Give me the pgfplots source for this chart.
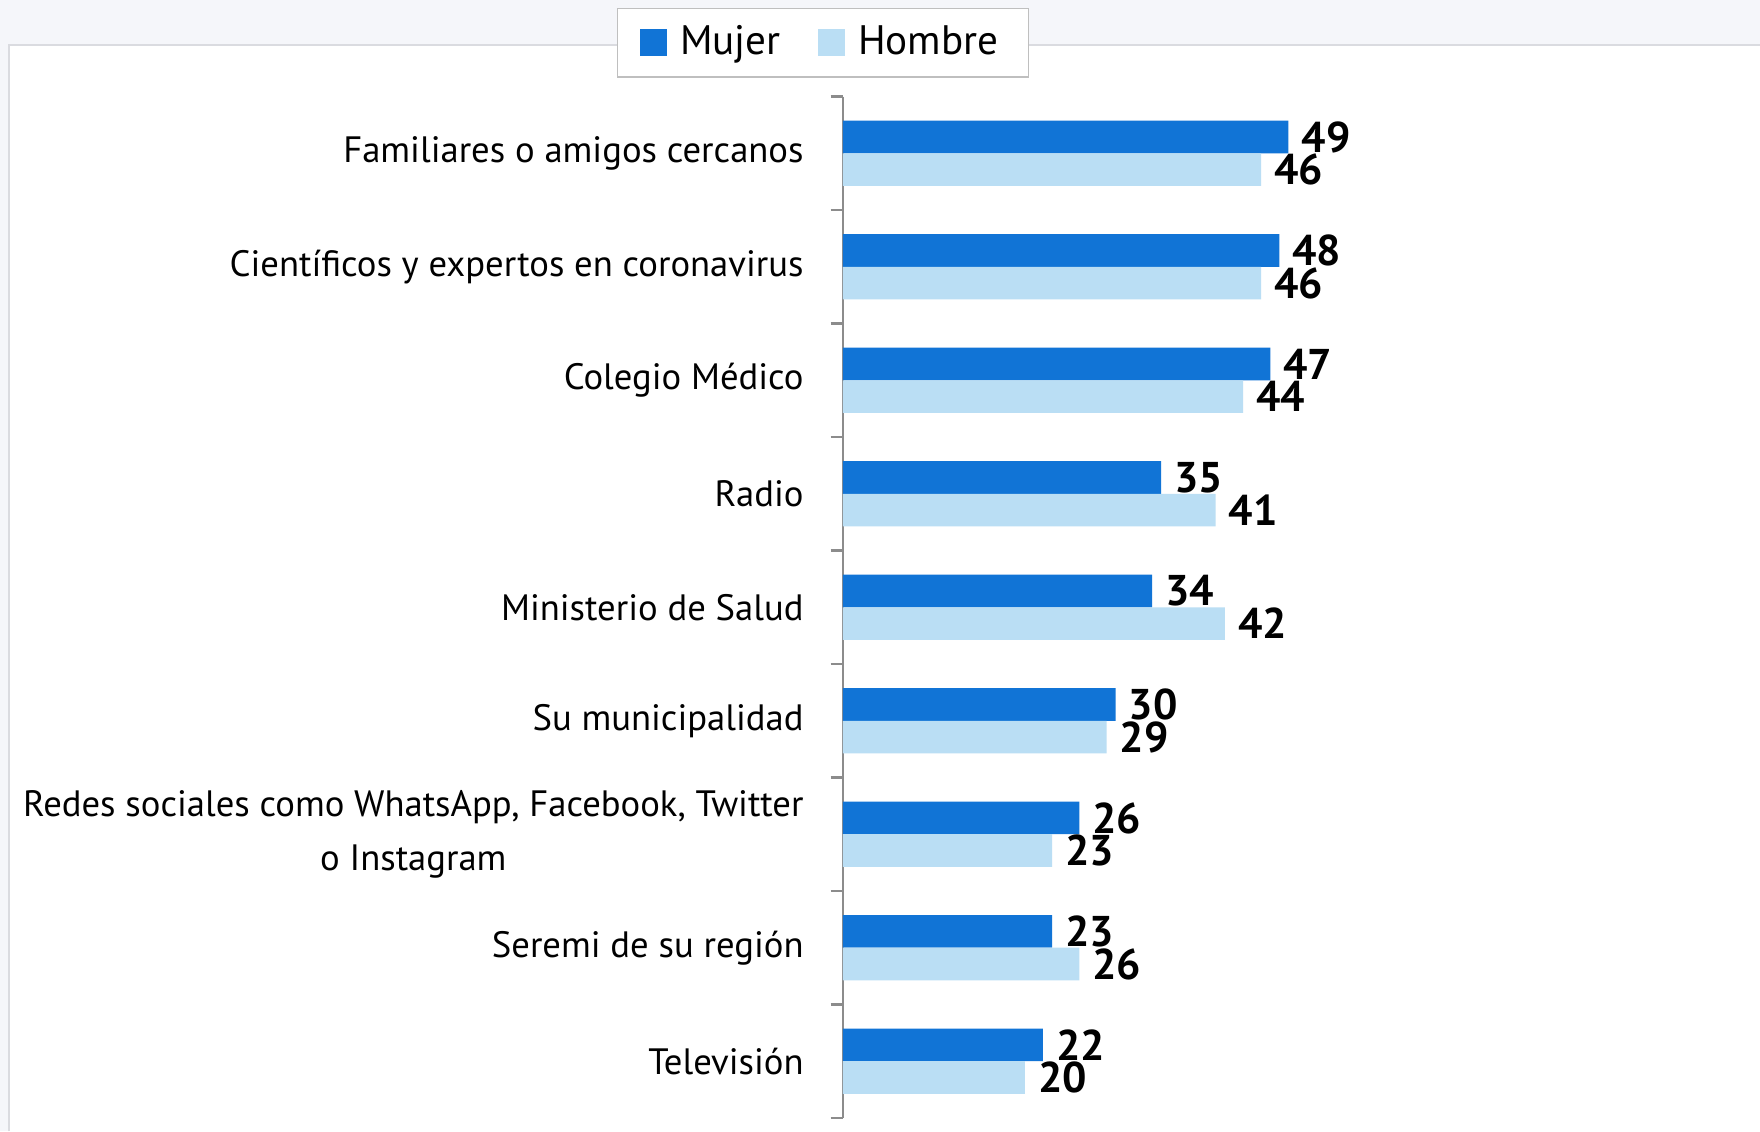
\documentclass[border=0pt]{standalone}
\usepackage{pgfplots}
\pgfplotsset{compat=1.18}
\usepackage{fontspec}
\setmainfont{PT Sans}
\definecolor{mujer}{RGB}{17,116,214}
\definecolor{hombre}{RGB}{186,222,244}
\definecolor{bgpanel}{RGB}{245,246,250}
\definecolor{panelline}{RGB}{218,219,224}

\begin{document}
\begin{tikzpicture}
% page background and white panel
\fill[bgpanel] (0,0) rectangle (470.4pt,302.4pt);
\fill[white] (2.4pt,0) rectangle (470.4pt,290.4pt);
\draw[panelline, line width=0.5pt] (2.4pt,0) -- (2.4pt,290.4pt) -- (470.4pt,290.4pt);
\begin{axis}[
  at={(225.3pt,3.6pt)}, anchor=south west,
  scale only axis,
  width=243pt, height=273pt,
  xbar,
  bar width=8.7pt,
  xmin=0, xmax=100,
  ymin=-0.5, ymax=8.5,
  y dir=reverse,
  axis x line=none,
  axis y line*=left,
  y axis line style={black!45, line width=0.6pt},
  ytick={0,...,8},
  yticklabels={
    Familiares o amigos cercanos,
    Científicos y expertos en coronavirus,
    Colegio Médico,
    Radio,
    Ministerio de Salud,
    Su municipalidad,
    {Redes sociales como WhatsApp, Facebook, Twitter\\o Instagram},
    Seremi de su región,
    Televisión},
  minor ytick={-0.5,0.5,...,8.5},
  major tick length=0pt,
  minor tick length=3.3pt,
  tick align=outside,
  minor tick style={black!45, line width=0.6pt},
  yticklabel style={align=center, font=\fontsize{9.8}{14.4}\selectfont, xshift=-7pt},
  /pgf/number format/assume math mode=true,
  nodes near coords,
  every node near coord/.append style={font=\bfseries\fontsize{11.5}{11.5}\selectfont, anchor=west, black},
  legend columns=2,
  legend style={
    at={(-0.022,1.0527)}, anchor=center,
    draw=black!25, fill=white,
    font=\fontsize{11}{13}\selectfont,
    inner xsep=6pt, inner ysep=2.5pt,
    /tikz/every odd column/.append style={column sep=1.5pt},
    /tikz/every even column/.append style={column sep=8pt},
  },
  legend image code/.code={\fill[#1] (0pt,-3.6pt) rectangle (7.2pt,3.6pt);},
]
\addplot[fill=mujer, draw=none, bar shift=4.35pt] coordinates {
  (49,0) (48,1) (47,2) (35,3) (34,4) (30,5) (26,6) (23,7) (22,8)
};
\addlegendentry{Mujer}
\addplot[fill=hombre, draw=none, bar shift=-4.35pt] coordinates {
  (46,0) (46,1) (44,2) (41,3) (42,4) (29,5) (23,6) (26,7) (20,8)
};
\addlegendentry{Hombre}
\end{axis}
\pgfresetboundingbox
\useasboundingbox (0,0) rectangle (470.4pt,302.4pt);
\end{tikzpicture}
\end{document}
